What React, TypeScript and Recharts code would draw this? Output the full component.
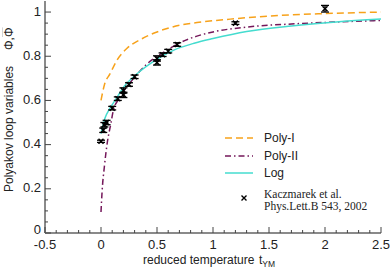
import { ComposedChart, Line, Scatter, XAxis, YAxis, ErrorBar, Legend } from 'recharts';

// reduced temperature t_YM -> Polyakov loop
const polyI = [
  { t: 0, v: 0.6 }, { t: 0.03, v: 0.67 }, { t: 0.08, v: 0.72 }, { t: 0.14, v: 0.78 },
  { t: 0.23, v: 0.835 }, { t: 0.35, v: 0.875 }, { t: 0.5, v: 0.91 }, { t: 0.7, v: 0.94 },
  { t: 0.9, v: 0.955 }, { t: 1.2, v: 0.97 }, { t: 1.6, v: 0.985 }, { t: 2.0, v: 0.993 },
  { t: 2.5, v: 1.0 },
];

const polyII = [
  { t: 0, v: 0.095 }, { t: 0.01, v: 0.19 }, { t: 0.03, v: 0.3 }, { t: 0.055, v: 0.405 },
  { t: 0.09, v: 0.5 }, { t: 0.11, v: 0.555 }, { t: 0.15, v: 0.6 }, { t: 0.2, v: 0.64 },
  { t: 0.3, v: 0.705 }, { t: 0.4, v: 0.76 }, { t: 0.55, v: 0.815 }, { t: 0.7, v: 0.86 },
  { t: 0.85, v: 0.89 }, { t: 1.0, v: 0.91 }, { t: 1.3, v: 0.932 }, { t: 1.7, v: 0.946 },
  { t: 2.1, v: 0.955 }, { t: 2.5, v: 0.962 },
];

const logFit = [
  { t: 0, v: 0.45 }, { t: 0.036, v: 0.52 }, { t: 0.08, v: 0.565 }, { t: 0.125, v: 0.6 },
  { t: 0.21, v: 0.665 }, { t: 0.33, v: 0.724 }, { t: 0.48, v: 0.78 }, { t: 0.66, v: 0.83 },
  { t: 0.84, v: 0.86 }, { t: 1.0, v: 0.88 }, { t: 1.3, v: 0.912 }, { t: 1.7, v: 0.937 },
  { t: 2.1, v: 0.955 }, { t: 2.5, v: 0.968 },
];

// lattice data, Kaczmarek et al. 2002
const kaczmarek = [
  { t: 0.0, v: 0.415, err: 0.005 }, { t: 0.02, v: 0.465, err: 0.01 },
  { t: 0.03, v: 0.49, err: 0.01 }, { t: 0.05, v: 0.5, err: 0.01 },
  { t: 0.1, v: 0.565, err: 0.008 }, { t: 0.15, v: 0.608, err: 0.008 },
  { t: 0.2, v: 0.625, err: 0.012 }, { t: 0.2, v: 0.645, err: 0.012 },
  { t: 0.25, v: 0.672, err: 0.008 }, { t: 0.3, v: 0.707, err: 0.008 },
  { t: 0.5, v: 0.772, err: 0.012 }, { t: 0.5, v: 0.79, err: 0.012 },
  { t: 0.55, v: 0.807, err: 0.008 }, { t: 0.6, v: 0.823, err: 0.008 },
  { t: 0.68, v: 0.853, err: 0.008 }, { t: 1.2, v: 0.95, err: 0.006 },
  { t: 2.0, v: 1.015, err: 0.015 },
];

const xTicks = [
  -0.5, -0.4, -0.3, -0.2, -0.1, 0, 0.1, 0.2, 0.3, 0.4, 0.5, 0.6, 0.7, 0.8, 0.9, 1,
  1.1, 1.2, 1.3, 1.4, 1.5, 1.6, 1.7, 1.8, 1.9, 2, 2.1, 2.2, 2.3, 2.4, 2.5,
];
const xLabels = ['-0.5', '0', '0.5', '1', '1.5', '2', '2.5'];

const yTicks = [
  0, 0.05, 0.1, 0.15, 0.2, 0.25, 0.3, 0.35, 0.4, 0.45, 0.5, 0.55, 0.6, 0.65, 0.7,
  0.75, 0.8, 0.85, 0.9, 0.95, 1,
];
const yLabels = ['0', '0.2', '0.4', '0.6', '0.8', '1'];

const SANS = '"Liberation Sans", Arial, sans-serif';
const SERIF = '"Liberation Serif", "Times New Roman", serif';
const TICK = '#444';

const fmt = (v: number) => String(Math.round(v * 100) / 100);

const BottomTick = ({ x, y, payload }: any) => {
  const lab = fmt(payload.value);
  const major = xLabels.includes(lab);
  return (
    <g>
      <line x1={x} x2={x} y1={y} y2={y - (major ? 6 : 3)} stroke={TICK} />
      {major && (
        <text x={x} y={y + 15.5} textAnchor="middle" fontSize={13} fontFamily={SANS} fill="#222">
          {lab}
        </text>
      )}
    </g>
  );
};

const TopTick = ({ x, y, payload }: any) => {
  const major = xLabels.includes(fmt(payload.value));
  return <line x1={x} x2={x} y1={y} y2={y + (major ? 6 : 3)} stroke={TICK} />;
};

const LeftTick = ({ x, y, payload }: any) => {
  const lab = fmt(payload.value);
  const major = yLabels.includes(lab);
  // the bottom label sits a little higher so it clears the x-axis "-0.5"
  const dy = lab === '0' ? 1 : 3.5;
  return (
    <g>
      <line x1={x} x2={x + (major ? 6 : 3)} y1={y} y2={y} stroke={TICK} />
      {major && (
        <text x={x - 4} y={y + dy} textAnchor="end" fontSize={13} fontFamily={SANS} fill="#222">
          {lab}
        </text>
      )}
    </g>
  );
};

const RightTick = ({ x, y, payload }: any) => {
  const major = yLabels.includes(fmt(payload.value));
  return <line x1={x} x2={x - (major ? 6 : 3)} y1={y} y2={y} stroke={TICK} />;
};

const Cross = ({ cx, cy }: any) => (
  <path
    d={`M${cx - 2.5},${cy - 2.5}L${cx + 2.5},${cy + 2.5}M${cx - 2.5},${cy + 2.5}L${cx + 2.5},${cy - 2.5}`}
    stroke="#000"
    strokeWidth={1.5}
  />
);

const XLabel = () => (
  <text y={264} fontSize={12} fontFamily={SANS} fill="#222">
    <tspan x={143}>reduced temperature</tspan>
    <tspan x={259}>t</tspan>
    <tspan fontSize={8.5} dy={3}>YM</tspan>
  </text>
);

const YLabel = () => (
  <text transform="translate(13,0) rotate(-90)" fontSize={12} fontFamily={SANS} fill="#222">
    <tspan x={-192} y={0}>Polyakov loop variables</tspan>
    <tspan x={-50}>{'\u03A6,'}</tspan>
    <tspan x={-37} style={{ textDecoration: 'overline' }}>{'\u03A6'}</tspan>
  </text>
);

const sample = (stroke: string, dash?: string) => (
  <svg width={39} height={10} style={{ display: 'block' }}>
    <line x1={0} x2={28} y1={5} y2={5} stroke={stroke} strokeWidth={1.5} strokeDasharray={dash} />
  </svg>
);

const LegendBox = () => (
  <div style={{ fontFamily: SANS, fontSize: 12, color: '#222', position: 'relative' }}>
    {[
      ['Poly-I', '#f7a21b', '7 4'],
      ['Poly-II', '#74175a', '6 3 1.5 3'],
      ['Log', '#45dccf', undefined],
    ].map(([name, c, d]) => (
      <div key={name} style={{ height: 17.5, display: 'flex', alignItems: 'center' }}>
        {sample(c as string, d as string | undefined)}
        <span>{name}</span>
      </div>
    ))}
    <div style={{ position: 'relative', marginTop: 6, fontFamily: SERIF, fontSize: 11.5, lineHeight: '12px' }}>
      <svg width={10} height={10} style={{ position: 'absolute', left: 14, top: 5 }}>
        <path d="M2.5,2.5L7.5,7.5M2.5,7.5L7.5,2.5" stroke="#000" strokeWidth={1.4} />
      </svg>
      <div style={{ paddingLeft: 39 }}>Kaczmarek et al.</div>
      <div style={{ paddingLeft: 39 }}>Phys.Lett.B 543, 2002</div>
    </div>
  </div>
);

export default function App() {
  return (
    <div style={{ width: 390, height: 271 }}>
      <style>{'body{margin:0}'}</style>
      <ComposedChart width={390} height={271} margin={{ top: 1, right: 9, bottom: 0, left: 0 }}>
        <XAxis
          xAxisId="b"
          dataKey="t"
          type="number"
          domain={[-0.5, 2.5]}
          ticks={xTicks}
          interval={0}
          tick={<BottomTick />}
          tickLine={false}
          tickSize={0}
          tickMargin={0}
          height={38}
          axisLine={{ stroke: '#8a8a8a', strokeWidth: 2 }}
          label={<XLabel />}
          allowDataOverflow
        />
        <XAxis
          xAxisId="t"
          orientation="top"
          dataKey="t"
          type="number"
          domain={[-0.5, 2.5]}
          ticks={xTicks}
          interval={0}
          tick={<TopTick />}
          tickLine={false}
          tickSize={0}
          tickMargin={0}
          height={0}
          axisLine={{ stroke: '#222', strokeWidth: 1 }}
          allowDataOverflow
        />
        <YAxis
          yAxisId="l"
          type="number"
          domain={[0, 1.05]}
          ticks={yTicks}
          interval={0}
          tick={<LeftTick />}
          tickLine={false}
          tickSize={0}
          tickMargin={0}
          width={45}
          axisLine={{ stroke: '#8a8a8a', strokeWidth: 2 }}
          label={<YLabel />}
          allowDataOverflow
        />
        <YAxis
          yAxisId="r"
          orientation="right"
          type="number"
          domain={[0, 1.05]}
          ticks={yTicks}
          interval={0}
          tick={<RightTick />}
          tickLine={false}
          tickSize={0}
          tickMargin={0}
          width={0}
          axisLine={{ stroke: '#222', strokeWidth: 1 }}
          allowDataOverflow
        />
        <Line
          xAxisId="b"
          yAxisId="l"
          data={polyI}
          dataKey="v"
          type="monotone"
          stroke="#f7a21b"
          strokeWidth={1.5}
          strokeDasharray="7 4"
          dot={false}
          isAnimationActive={false}
        />
        <Line
          xAxisId="b"
          yAxisId="l"
          data={polyII}
          dataKey="v"
          type="monotone"
          stroke="#74175a"
          strokeWidth={1.5}
          strokeDasharray="6 3 1.5 3"
          dot={false}
          isAnimationActive={false}
        />
        <Line
          xAxisId="b"
          yAxisId="l"
          data={logFit}
          dataKey="v"
          type="monotone"
          stroke="#45dccf"
          strokeWidth={1.5}
          dot={false}
          isAnimationActive={false}
        />
        <Scatter
          xAxisId="b"
          yAxisId="l"
          data={kaczmarek}
          dataKey="v"
          shape={<Cross />}
          isAnimationActive={false}
        >
          <ErrorBar dataKey="err" direction="y" width={4} stroke="#000" strokeWidth={1.3} />
        </Scatter>
        <Legend
          layout="vertical"
          align="center"
          verticalAlign="middle"
          content={<LegendBox />}
          wrapperStyle={{ left: 225, top: 129.5, width: 165 }}
        />
      </ComposedChart>
    </div>
  );
}
